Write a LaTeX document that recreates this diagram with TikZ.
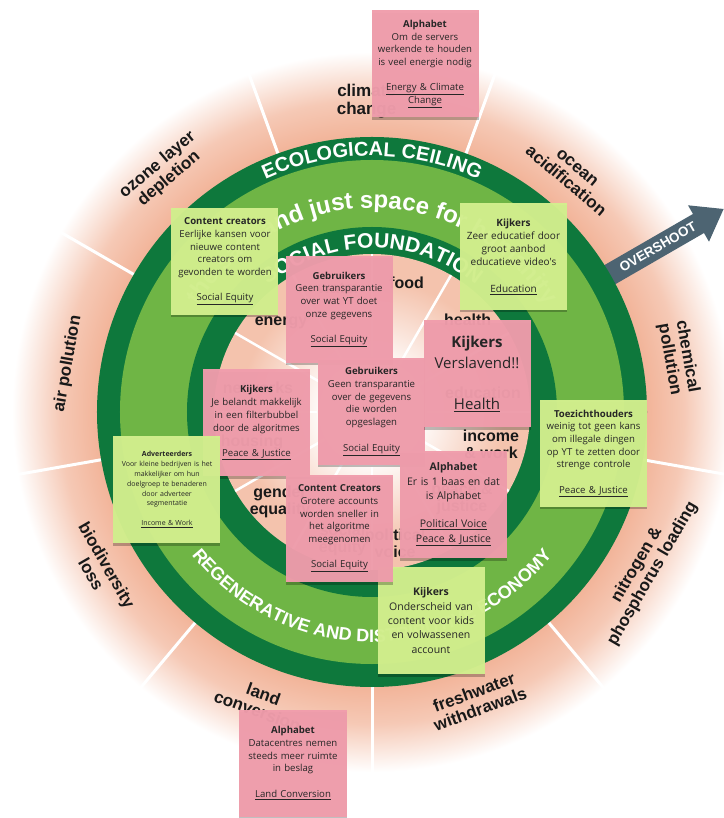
\documentclass[tikz,border=0pt]{standalone}
\usepackage{fontspec}
\setsansfont{Liberation Sans}
\newfontfamily\notefont{Open Sans}
\usetikzlibrary{decorations.text,shadows}
\definecolor{darkg}{HTML}{0E783C}
\definecolor{lightg}{HTML}{6FB545}
\definecolor{salm}{HTML}{F2B499}
\definecolor{salmin}{HTML}{F4C3AD}
\definecolor{notepink}{HTML}{F09DAC}
\definecolor{notegreen}{HTML}{D3F08E}
\definecolor{arrowc}{HTML}{4D6472}
\definecolor{notetext}{HTML}{262626}
\pgfdeclareradialshading{outerglow}{\pgfpoint{0bp}{0bp}}{color(0bp)=(salm); color(18.3bp)=(salm); color(20.8bp)=(salm!72!white); color(24bp)=(white); color(50bp)=(white)}
\pgfdeclareradialshading{innerglow}{\pgfpoint{0bp}{0bp}}{color(0bp)=(white); color(7bp)=(white); color(21bp)=(salmin); color(50bp)=(salmin)}
\begin{document}
\begin{tikzpicture}[x=1pt,y=1pt,
  lbl/.style={font=\sffamily\bfseries\fontsize{17}{18}\selectfont, align=center, text=black!90, inner sep=0pt},
  ilbl/.style={font=\sffamily\bfseries\fontsize{16}{17}\selectfont, align=center, text=black!90, inner sep=0pt},
  divout/.style={white, line width=3pt},
  divin/.style={white, line width=2.5pt},
  ringtext/.style={decorate, decoration={text along path, text align=center, text color=white, text={#1}}},
  note/.style={minimum width=107pt, minimum height=107pt, inner sep=0pt, align=center, text width=104pt,
    text=notetext, fill opacity=0.965, text opacity=1,
    font=\notefont\fontsize{9.6}{12.7}\selectfont,
    drop shadow={shadow xshift=0pt, shadow yshift=-2.5pt, opacity=0.25, fill=black}},
  pinknote/.style={note, fill=notepink},
  greennote/.style={note, fill=notegreen}
]
\useasboundingbox (-372,-406) rectangle (351,412);
\fill[white] (-372,-406) rectangle (351,412);
% outer glow
\shade[shading=outerglow] (0,0) circle (375pt);
\foreach \a in {30,70,...,350} \draw[divout] (\a:272pt) -- (\a:372pt);
% outer labels
\node[lbl] (climate) at (91:311pt) {climate\\change};
\node[lbl, rotate=-40] (ocean) at (50:310pt) {ocean\\acidification};
\node[lbl, rotate=-80] (chem) at (10:311pt) {chemical\\pollution};
\node[lbl, rotate=60] (nitro) at (-30:315pt) {nitrogen \&\\phosphorus loading};
\node[lbl, rotate=20] (fresh) at (-70:307pt) {freshwater\\withdrawals};
\node[lbl, rotate=-20] (land) at (-111:311pt) {land\\conversion};
\node[lbl, rotate=-60] (bio) at (-150:315pt) {biodiversity\\loss};
\node[lbl, rotate=80] (air) at (171:308pt) {air pollution};
\node[lbl, rotate=40] (ozone) at (131:318pt) {ozone layer\\depletion};
% overshoot arrow
\begin{scope}[rotate=30]
\fill[arrowc] (262,-11) -- (377,-11) -- (377,-21) -- (406,0) -- (377,21) -- (377,11) -- (262,11) -- cycle;
\end{scope}
\node[font=\sffamily\bfseries\fontsize{13.5}{14}\selectfont, text=white, rotate=30] (over) at (30:330pt) {OVERSHOOT};
% rings
\fill[darkg] (0,0) circle (275pt);
\fill[lightg] (0,0) circle (252pt);
\fill[darkg] (0,0) circle (185pt);
\shade[shading=innerglow] (0,0) circle (158pt);
\foreach \a in {0,30,...,330} \draw[divin] (\a:55pt) -- (\a:158pt);
% inner labels
\node[ilbl] (food) at (75:134pt) {food};
\node[ilbl] (health) at (44:133pt) {health};
\node[ilbl] (edu) at (111,19) {education};
\node[ilbl] (income) at (119,-32) {income\\\& work};
\node[ilbl] (peace) at (90,-87) {peace \&\\justice};
\node[ilbl] (polit) at (-80:133pt) {political\\voice};
\node[ilbl] (social) at (-103:131pt) {social\\equity};
\node[ilbl] (gender) at (-92,-90) {gender\\equality};
\node[ilbl] (housing) at (-120,-30) {housing};
\node[ilbl] (networks) at (-114,24) {networks};
\node[ilbl] (energy) at (-91,89) {energy};
\node[ilbl] (water) at (105:128pt) {water};
% ring texts
\path[ringtext={|\sffamily\bfseries\fontsize{20}{20}\selectfont|ECOLOGICAL CEILING}]
  (160:256pt) arc[start angle=160, end angle=20, radius=256pt];
\path[ringtext={|\sffamily\bfseries\fontsize{24}{24}\selectfont|the safe and just space for humanity}]
  (178:204pt) arc[start angle=178, end angle=2, radius=204pt];
\path[ringtext={|\sffamily\bfseries\fontsize{21}{21}\selectfont|SOCIAL FOUNDATION}]
  (160:164pt) arc[start angle=160, end angle=20, radius=164pt];
\path[ringtext={|\sffamily\bfseries\fontsize{18}{18}\selectfont|REGENERATIVE AND DISTRIBUTIVE ECONOMY}]
  (190:230pt) arc[start angle=190, end angle=350, radius=230pt];
% notes
\node[pinknote] (n1) at (53,348) {\textbf{Alphabet}\\Om de servers\\werkende te houden\\is veel energie nodig\\[12.7pt]\underline{Energy \& Climate}\\\underline{Change}};
\node[greennote] (n2) at (-147,150.5) {\textbf{Content creators}\\Eerlijke kansen voor\\nieuwe content\\creators om\\gevonden te worden\\[12.7pt]\underline{Social Equity}};
\node[greennote, font=\notefont\fontsize{10}{13.2}\selectfont] (n3) at (141.5,155.5) {\textbf{Kijkers}\\Zeer educatief door\\groot aanbod\\educatieve video's\\[13.2pt]\underline{Education}};
\node[pinknote] (n4) at (-33,102.5) {\textbf{Gebruikers}\\Geen transparantie\\over wat YT doet\\onze gegevens\\[12.7pt]\underline{Social Equity}};
\node[pinknote] (n7) at (-0.5,0.5) {\textbf{Gebruikers}\\Geen transparantie\\over de gegevens\\die worden\\opgeslagen\\[12.7pt]\underline{Social Equity}};
\node[pinknote, font=\notefont\fontsize{15}{20.5}\selectfont] (n5) at (105,38) {\textbf{Kijkers}\\Verslavend!!\\[20.5pt]\underline{Health}};
\node[pinknote] (n6) at (-115.5,-11) {\textbf{Kijkers}\\Je belandt makkelijk\\in een filterbubbel\\door de algoritmes\\[12.7pt]\underline{Peace \& Justice}};
\node[greennote, font=\notefont\fontsize{7}{9.8}\selectfont] (n8) at (-205,-77.5) {\textbf{Adverteerders}\\Voor kleine bedrijven is het\\makkelijker om hun\\doelgroep te benaderen\\door adverteer\\segmentatie\\[9.8pt]\underline{Income \& Work}};
\node[pinknote, font=\notefont\fontsize{10.5}{14.3}\selectfont] (n10) at (81.5,-92.5) {\textbf{Alphabet}\\Er is 1 baas en dat\\is Alphabet\\[14.3pt]\underline{Political Voice}\\\underline{Peace \& Justice}};
\node[greennote, font=\notefont\fontsize{10.5}{14.3}\selectfont] (n12) at (59,-208.5) {\textbf{Kijkers}\\Onderscheid van\\content voor kids\\en volwassenen\\account};
\node[pinknote] (n9) at (-32.5,-116.5) {\textbf{Content Creators}\\Grotere accounts\\worden sneller in\\het algoritme\\meegenomen\\[12.7pt]\underline{Social Equity}};
\node[greennote] (n11) at (221.5,-41.5) {\textbf{Toezichthouders}\\weinig tot geen kans\\om illegale dingen\\op YT te zetten door\\strenge controle\\[12.7pt]\underline{Peace \& Justice}};
\node[pinknote] (n13) at (-79,-351) {\textbf{Alphabet}\\Datacentres nemen\\steeds meer ruimte\\in beslag\\[12.7pt]\underline{Land Conversion}};
\end{tikzpicture}
\end{document}
